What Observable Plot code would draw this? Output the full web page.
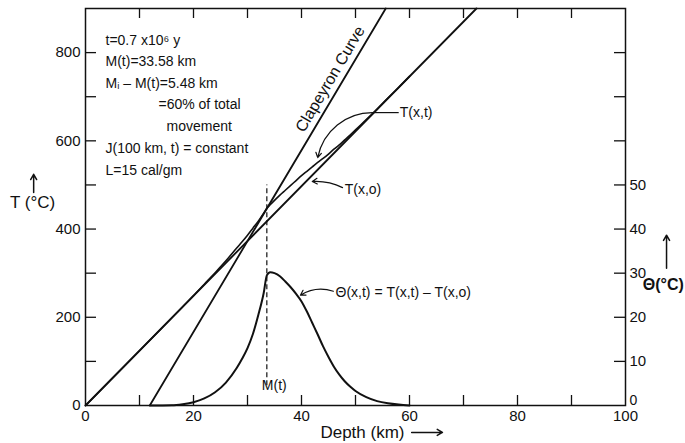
<!DOCTYPE html>
<html><head><meta charset="utf-8">
<script src="https://cdn.jsdelivr.net/npm/d3@7"></script>
<script src="https://cdn.jsdelivr.net/npm/@observablehq/plot@0.6"></script>
<style>html,body{margin:0;padding:0;background:#fff}svg{display:block}</style>
</head><body><div id="chart"></div>
<script>
// ---- data ----
// initial geotherm T(x,0): straight line
const t0Depth = [0, 72.4];
const t0Temp = [0, 900];
// Clapeyron curve
const clapDepth = [11.9, 55.6];
const clapTemp = [0, 900];
// Theta(x,t) (deg C, right axis)
const thetaDepth = [12, 16, 18, 20, 22, 24, 26, 28, 29, 30, 31, 32, 33, 33.58, 34.2, 35, 36, 37, 38, 39, 40, 41, 42, 43, 44, 45, 46, 47, 48, 49, 50, 52, 54, 56, 58, 60];
const thetaVals  = [0, 0.05, 0.3, 0.75, 1.6, 3.0, 5.2, 8.5, 10.6, 13, 16.2, 20.5, 25.5, 29.5, 30.2, 30.0, 29.3, 28.1, 26.8, 25.3, 23.6, 21.3, 18.7, 16.1, 13.4, 11, 8.8, 7, 5.5, 4.3, 3.3, 1.9, 1.0, 0.5, 0.2, 0];
// T(x,t) (deg C, left axis)
const ttDepth = [0, 10, 16, 18, 20, 22, 24, 26, 28, 29, 30, 31, 32, 33, 33.58, 34.2, 35, 36, 37, 38, 39, 40, 41, 42, 43, 44, 45, 46, 47, 48, 49, 50, 52, 54, 56, 58, 60];
const ttTemp  = [0, 124, 199, 224, 249, 275, 301, 328, 357, 371, 386, 402, 418, 436, 447, 455, 465, 477, 488, 499, 510, 521, 531, 541, 551, 560, 570, 581, 591, 602, 613, 625, 648, 672, 697, 721, 746];
const mDepth = 33.58;
const dashTemp = [45, 500];
// ticks
const xLabelTicks = [0, 20, 40, 60, 80, 100];
const xMinorTicks = [10, 20, 30, 40, 50, 60, 70, 80, 90];
const tLabelTicks = [0, 200, 400, 600, 800];
const tMinorTicks = [100, 200, 300, 400, 500, 600, 700, 800];
const thetaLabelTicks = [10, 20, 30, 40, 50];
const thetaZero = [0];
const thetaMinorTicks = [10, 20, 30, 40, 50, 60, 70, 80];

const t0Rows = t0Depth.map((x, i) => ({x, T: t0Temp[i]}));
const clapRows = clapDepth.map((x, i) => ({x, T: clapTemp[i]}));
const thetaRows = thetaDepth.map((x, i) => ({x, theta: thetaVals[i]}));
const ttRows = ttDepth.map((x, i) => ({x, T: ttTemp[i]}));

const W = 685, H = 443, ML = 85, MR = 60, MT = 8, MB = 38;
const PW = W - ML - MR, PH = H - MT - MB;
const ink = "#111";
const F = "'Liberation Sans', Arial, sans-serif";

const note = (s, dx, dy) => Plot.text([s], {frameAnchor: "top-left", dx, dy, textAnchor: "start", lineAnchor: "middle", fontSize: 14, fill: ink});

const chart = Plot.plot({
  width: W, height: H,
  marginLeft: ML, marginRight: MR, marginTop: MT, marginBottom: MB,
  style: {fontFamily: F, fontSize: "15px", color: ink, background: "#fff"},
  x: {domain: [0, 100]},
  y: {domain: [0, 900]},
  marks: [
    Plot.frame({stroke: ink, strokeWidth: 1.5}),
    Plot.axisX({ticks: xLabelTicks, tickSize: 0, tickPadding: 5, label: null, fontSize: 15}),
    Plot.axisY({ticks: tLabelTicks, tickSize: 0, tickPadding: 5, label: null, fontSize: 15}),
    Plot.axisY({anchor: "right", ticks: thetaLabelTicks.map(d => d * 10), tickFormat: d => d / 10, tickSize: 0, tickPadding: 4, label: null, fontSize: 15}),
    Plot.text(thetaZero, {x: 100, y: d => d * 10, text: d => String(d), dx: 4, dy: -5, textAnchor: "start", fontSize: 14, fill: ink}),
    // inward ticks
    Plot.tickY(tMinorTicks, {y: d => d, insetRight: PW - 11, stroke: ink, strokeWidth: 1.3}),
    Plot.tickY(thetaMinorTicks, {y: d => d * 10, insetLeft: PW - 11, stroke: ink, strokeWidth: 1.3}),
    Plot.tickX(xMinorTicks, {x: d => d, insetTop: PH - 10, stroke: ink, strokeWidth: 1.3}),
    Plot.tickX(xMinorTicks, {x: d => d, insetBottom: PH - 10, stroke: ink, strokeWidth: 1.3}),
    // curves
    Plot.line(t0Rows, {x: "x", y: "T", stroke: ink, strokeWidth: 1.8}),
    Plot.line(clapRows, {x: "x", y: "T", stroke: ink, strokeWidth: 1.8}),
    Plot.line(ttRows, {x: "x", y: "T", stroke: ink, strokeWidth: 1.6, curve: "monotone-x"}),
    Plot.line(thetaRows, {x: "x", y: d => d.theta * 10, stroke: ink, strokeWidth: 2, curve: "monotone-x"}),
    Plot.ruleX([mDepth], {y1: dashTemp[0], y2: dashTemp[1], stroke: ink, strokeWidth: 1.2, strokeDasharray: "5,3"}),
    Plot.text(["M(t)"], {x: () => mDepth, frameAnchor: "bottom", dy: -16, dx: -5, textAnchor: "start", fontSize: 14, fill: ink}),
    // notes
    note("t=0.7 x10⁶ y", 20, 32),
    note("M(t)=33.58 km", 20, 53),
    note("Mᵢ – M(t)=5.48 km", 20, 75),
    note("=60% of total", 73, 96),
    note("movement", 81, 118),
    note("J(100 km, t) = constant", 20, 140),
    note("L=15 cal/gm", 20, 162),
    Plot.text(["Clapeyron Curve"], {x: 45.3, y: 740, rotate: -59.3, fontSize: 16, fill: ink}),
    // T(x,t) label + arc
    Plot.text(["T(x,t)"], {x: 58.2, y: 664, textAnchor: "start", fontSize: 14, fill: ink}),
    Plot.link([0], {x1: 53.3, y1: 664, x2: 58.0, y2: 664, stroke: ink, strokeWidth: 1.2}),
    Plot.arrow([0], {x1: 53.3, y1: 664, x2: 43.0, y2: 562, bend: -40, headLength: 7, stroke: ink, strokeWidth: 1.2}),
    // T(x,o)
    Plot.text(["T(x,o)"], {x: 48.0, y: 490, textAnchor: "start", fontSize: 14, fill: ink}),
    Plot.arrow([0], {x1: 47.6, y1: 494, x2: 42.0, y2: 508, bend: -15, headLength: 7, stroke: ink, strokeWidth: 1.2}),
    // Theta label
    Plot.text(["Θ(x,t) = T(x,t) – T(x,o)"], {x: 46.3, y: 256, textAnchor: "start", fontSize: 14, fill: ink}),
    Plot.arrow([0], {x1: 45.9, y1: 259, x2: 39.8, y2: 250, bend: -25, headLength: 7, stroke: ink, strokeWidth: 1.2}),
    // axis titles
    Plot.text(["T (°C)"], {x: -9.8, y: 460, textAnchor: "middle", fontSize: 17, fill: ink}),
    Plot.arrow([0], {x1: -9.6, y1: 483, x2: -9.6, y2: 524, headLength: 6, stroke: ink, strokeWidth: 1.5}),
    Plot.text(["Θ(°C)"], {x: 107.0, y: 274, textAnchor: "middle", fontSize: 16, fill: ink, fontWeight: "bold"}),
    Plot.arrow([0], {x1: 107.6, y1: 311, x2: 107.6, y2: 386, headLength: 6, stroke: ink, strokeWidth: 1.5}),
    Plot.text(["Depth (km)"], {x: 43.5, y: -61, textAnchor: "start", fontSize: 17, fill: ink}),
    Plot.arrow([0], {x1: 60.4, y1: -61, x2: 66.1, y2: -61, headLength: 6, stroke: ink, strokeWidth: 1.5})
  ]
});
document.getElementById("chart").appendChild(chart);
</script>
</body></html>
